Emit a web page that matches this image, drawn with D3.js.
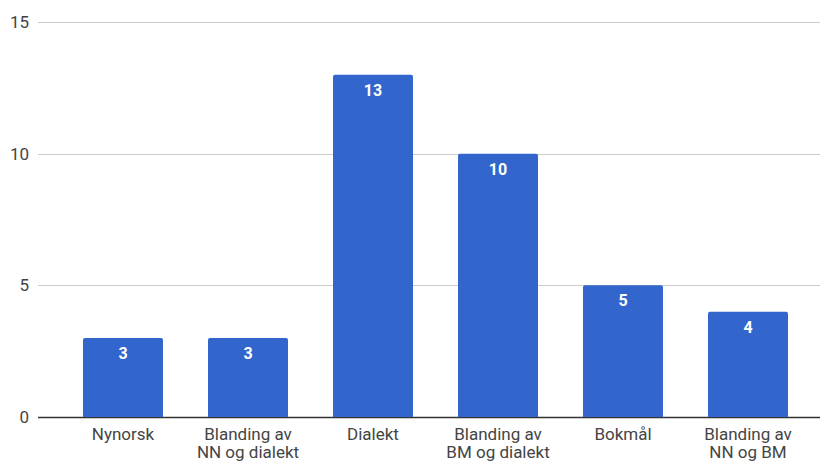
<!DOCTYPE html>
<html><head><meta charset="utf-8">
<script src="https://cdn.jsdelivr.net/npm/d3@7"></script>
<style>body{margin:0;background:#fff}svg{display:block}</style>
</head><body><svg id="c" width="820" height="462"></svg>
<script>
const categories = [["Nynorsk"],["Blanding av","NN og dialekt"],["Dialekt"],["Blanding av","BM og dialekt"],["Bokmål"],["Blanding av","NN og BM"]];
const values = [3,3,13,10,5,4];
const yTicks = [0,5,10,15];

const svg = d3.select("#c");
const W = 820, H = 462;
const m = {left:60.5, right:9.5, top:22, bottom:45};
const idx = categories.map((d,i)=>i);
const x = d3.scaleBand().domain(idx).range([m.left, W-m.right]).paddingInner(0.36).paddingOuter(0.18);
const y = d3.scaleLinear().domain([0,15]).range([H-m.bottom, m.top]);

// grid
svg.append("g").selectAll("line").data(yTicks).join("line")
  .attr("x1",38).attr("x2",W).attr("y1",d=>Math.round(y(d))+0.5).attr("y2",d=>Math.round(y(d))+0.5)
  .attr("stroke",d=>d===0?"#333":"#ccc").attr("stroke-width",d=>d===0?1.5:1);
svg.append("g").selectAll("text").data(yTicks).join("text")
  .attr("x",29).attr("y",d=>y(d)).attr("dy","0.35em").attr("text-anchor","end")
  .attr("font-family","Roboto").attr("font-size",17).attr("fill","#444").text(d=>d);

// bars
svg.append("g").selectAll("path").data(values).join("path")
  .attr("fill","#3366cc")
  .attr("d",(d,i)=>{
    const x0=x(i), w=x.bandwidth(), y0=y(d), y1=y(0), r=2;
    return `M${x0},${y1}V${y0+r}Q${x0},${y0} ${x0+r},${y0}H${x0+w-r}Q${x0+w},${y0} ${x0+w},${y0+r}V${y1}Z`;
  });
svg.append("g").selectAll("text").data(values).join("text")
  .attr("x",(d,i)=>x(i)+x.bandwidth()/2).attr("y",d=>y(d)+21).attr("text-anchor","middle")
  .attr("font-family","Roboto").attr("font-weight","bold").attr("font-size",16).attr("fill","#fff").text(d=>d);

// category labels
const cl = svg.append("g").selectAll("text").data(categories).join("text")
  .attr("x",(d,i)=>x(i)+x.bandwidth()/2).attr("y",440).attr("text-anchor","middle")
  .attr("font-family","Roboto").attr("font-size",17).attr("fill","#444");
cl.selectAll("tspan").data(d=>d).join("tspan")
  .attr("x",function(){return this.parentNode.getAttribute("x");})
  .attr("dy",(d,i)=>i===0?0:18).text(d=>d);
</script></body></html>
